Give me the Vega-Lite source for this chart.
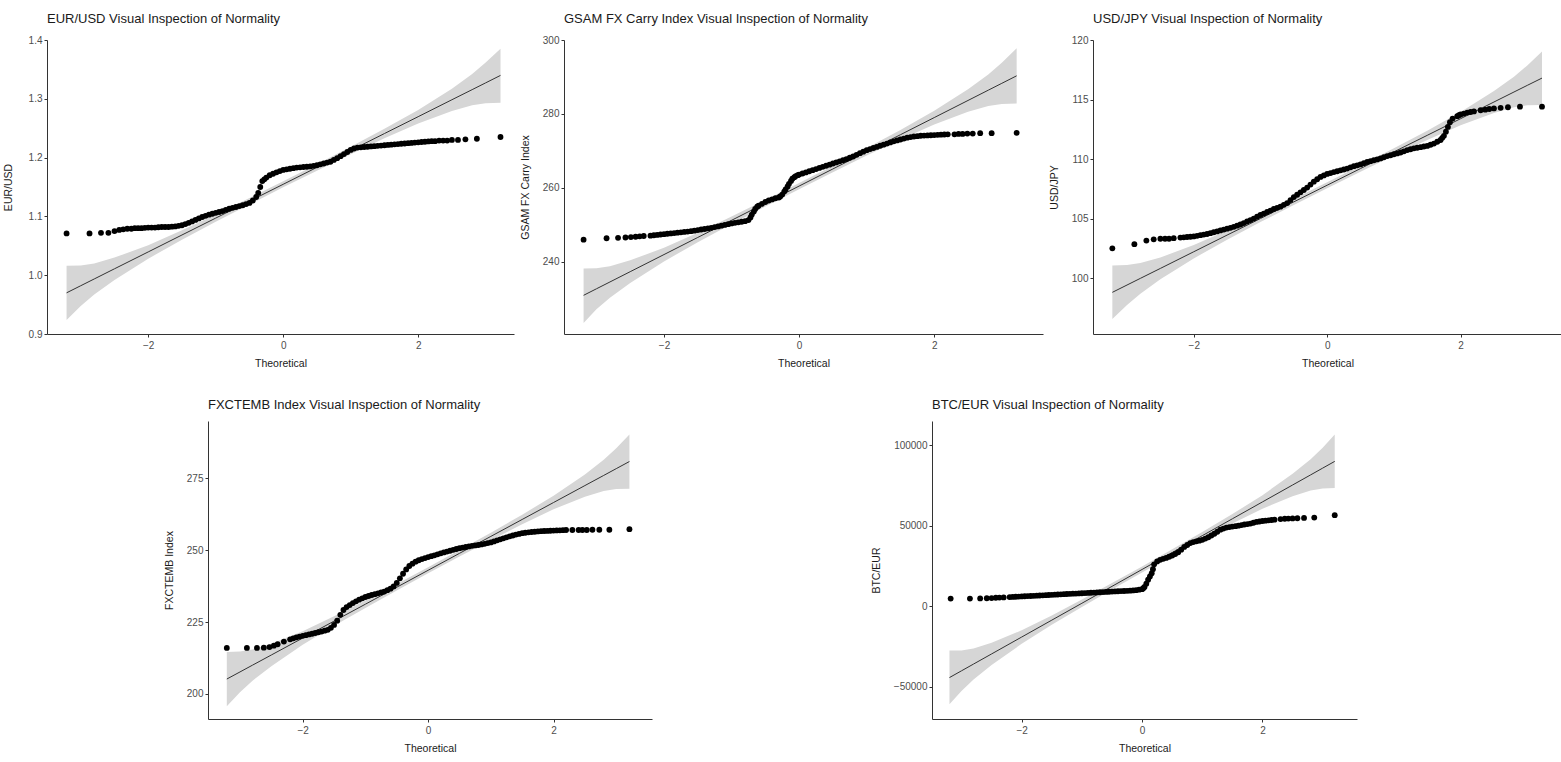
{
  "$schema": "https://vega.github.io/schema/vega-lite/v6.json",
  "padding": {"left": 3, "top": 13, "right": 0, "bottom": 0},
  "background": "white",
  "datasets": {
    "eur": [
      {"t": -3.21, "v": 1.071}, {"t": -2.87, "v": 1.071}, {"t": -2.7, "v": 1.072}, {"t": -2.59, "v": 1.072}, {"t": -2.5, "v": 1.075}, {"t": -2.43, "v": 1.077}, {"t": -2.37, "v": 1.078}, {"t": -2.31, "v": 1.079}, {"t": -2.25, "v": 1.079},
      {"t": -2.2, "v": 1.08}, {"t": -2.15, "v": 1.08}, {"t": -2.1, "v": 1.08}, {"t": -2.05, "v": 1.0805}, {"t": -2.0, "v": 1.081}, {"t": -1.95, "v": 1.081}, {"t": -1.9, "v": 1.081}, {"t": -1.85, "v": 1.0815}, {"t": -1.8, "v": 1.082}, {"t": -1.75, "v": 1.082}, {"t": -1.7, "v": 1.082}, {"t": -1.65, "v": 1.0825}, {"t": -1.6, "v": 1.083}, {"t": -1.55, "v": 1.084}, {"t": -1.5, "v": 1.085}, {"t": -1.45, "v": 1.087}, {"t": -1.4, "v": 1.089}, {"t": -1.35, "v": 1.0915}, {"t": -1.3, "v": 1.094}, {"t": -1.25, "v": 1.0965}, {"t": -1.2, "v": 1.099}, {"t": -1.15, "v": 1.101}, {"t": -1.1, "v": 1.103}, {"t": -1.05, "v": 1.1045}, {"t": -1.0, "v": 1.106}, {"t": -0.95, "v": 1.1075}, {"t": -0.9, "v": 1.109}, {"t": -0.85, "v": 1.111}, {"t": -0.8, "v": 1.113}, {"t": -0.75, "v": 1.1145}, {"t": -0.7, "v": 1.116}, {"t": -0.65, "v": 1.1175}, {"t": -0.6, "v": 1.119}, {"t": -0.55, "v": 1.121}, {"t": -0.5, "v": 1.123}, {"t": -0.45, "v": 1.127}, {"t": -0.4, "v": 1.133}, {"t": -0.37, "v": 1.14}, {"t": -0.34, "v": 1.15}, {"t": -0.31, "v": 1.16}, {"t": -0.28, "v": 1.163}, {"t": -0.25, "v": 1.166}, {"t": -0.2, "v": 1.17}, {"t": -0.15, "v": 1.1725}, {"t": -0.1, "v": 1.175}, {"t": -0.05, "v": 1.177},
      {"t": 0.0, "v": 1.179}, {"t": 0.05, "v": 1.18}, {"t": 0.1, "v": 1.181}, {"t": 0.15, "v": 1.182}, {"t": 0.2, "v": 1.183}, {"t": 0.25, "v": 1.1835}, {"t": 0.3, "v": 1.184}, {"t": 0.35, "v": 1.1845}, {"t": 0.4, "v": 1.185}, {"t": 0.45, "v": 1.186}, {"t": 0.5, "v": 1.187}, {"t": 0.55, "v": 1.1885}, {"t": 0.6, "v": 1.19}, {"t": 0.65, "v": 1.1915}, {"t": 0.7, "v": 1.193}, {"t": 0.75, "v": 1.196}, {"t": 0.8, "v": 1.199}, {"t": 0.85, "v": 1.2025}, {"t": 0.9, "v": 1.206}, {"t": 0.95, "v": 1.2095}, {"t": 1.0, "v": 1.213}, {"t": 1.05, "v": 1.2155}, {"t": 1.1, "v": 1.217}, {"t": 1.15, "v": 1.2175}, {"t": 1.2, "v": 1.218}, {"t": 1.25, "v": 1.2185}, {"t": 1.3, "v": 1.219}, {"t": 1.35, "v": 1.2195}, {"t": 1.4, "v": 1.22}, {"t": 1.45, "v": 1.2205}, {"t": 1.5, "v": 1.221}, {"t": 1.55, "v": 1.2215}, {"t": 1.6, "v": 1.222}, {"t": 1.65, "v": 1.2225}, {"t": 1.7, "v": 1.223}, {"t": 1.75, "v": 1.2235}, {"t": 1.8, "v": 1.224}, {"t": 1.85, "v": 1.2245}, {"t": 1.9, "v": 1.225}, {"t": 1.95, "v": 1.2255}, {"t": 2.0, "v": 1.226}, {"t": 2.05, "v": 1.2265}, {"t": 2.1, "v": 1.227}, {"t": 2.15, "v": 1.2275}, {"t": 2.2, "v": 1.228},
      {"t": 2.25, "v": 1.228}, {"t": 2.31, "v": 1.229}, {"t": 2.37, "v": 1.229}, {"t": 2.43, "v": 1.229}, {"t": 2.5, "v": 1.23}, {"t": 2.59, "v": 1.23}, {"t": 2.7, "v": 1.231}, {"t": 2.87, "v": 1.232}, {"t": 3.22, "v": 1.235}
    ],
    "eurb": [
      {"t": -3.21, "lo": 0.924, "hi": 1.016, "fit": 0.970}, {"t": -3.0, "lo": 0.9476, "hi": 1.0166, "fit": 0.9821}, {"t": -2.8, "lo": 0.9672, "hi": 1.0201, "fit": 0.9936}, {"t": -2.5, "lo": 0.9919, "hi": 1.0299, "fit": 1.0109}, {"t": -2.0, "lo": 1.0281, "hi": 1.0511, "fit": 1.0396}, {"t": -1.5, "lo": 1.0603, "hi": 1.0764, "fit": 1.0684}, {"t": -1.0, "lo": 1.0908, "hi": 1.1034, "fit": 1.0971}, {"t": -0.5, "lo": 1.1203, "hi": 1.1314, "fit": 1.1259}, {"t": 0.0, "lo": 1.1494, "hi": 1.1598, "fit": 1.1546}, {"t": 0.5, "lo": 1.1778, "hi": 1.1889, "fit": 1.1834}, {"t": 1.0, "lo": 1.2058, "hi": 1.2184, "fit": 1.2121}, {"t": 1.5, "lo": 1.2328, "hi": 1.2489, "fit": 1.2409}, {"t": 2.0, "lo": 1.2581, "hi": 1.2811, "fit": 1.2696}, {"t": 2.5, "lo": 1.2794, "hi": 1.3173, "fit": 1.2984}, {"t": 2.8, "lo": 1.2892, "hi": 1.3421, "fit": 1.3156}, {"t": 3.0, "lo": 1.2926, "hi": 1.3616, "fit": 1.3271}, {"t": 3.22, "lo": 1.2932, "hi": 1.3852, "fit": 1.3398}
    ],
    "gsam": [
      {"t": -3.19, "v": 246.0}, {"t": -2.85, "v": 246.4}, {"t": -2.68, "v": 246.5}, {"t": -2.57, "v": 246.6}, {"t": -2.49, "v": 246.7}, {"t": -2.42, "v": 246.8}, {"t": -2.36, "v": 246.9}, {"t": -2.3, "v": 247.0},
      {"t": -2.2, "v": 247.1}, {"t": -2.15, "v": 247.2}, {"t": -2.1, "v": 247.3}, {"t": -2.05, "v": 247.4}, {"t": -2.0, "v": 247.5}, {"t": -1.95, "v": 247.6}, {"t": -1.9, "v": 247.7}, {"t": -1.85, "v": 247.8}, {"t": -1.8, "v": 247.9}, {"t": -1.75, "v": 248.0}, {"t": -1.7, "v": 248.1}, {"t": -1.65, "v": 248.2}, {"t": -1.6, "v": 248.3}, {"t": -1.55, "v": 248.45}, {"t": -1.5, "v": 248.6}, {"t": -1.45, "v": 248.75}, {"t": -1.4, "v": 248.9}, {"t": -1.35, "v": 249.05}, {"t": -1.3, "v": 249.2}, {"t": -1.25, "v": 249.4}, {"t": -1.2, "v": 249.6}, {"t": -1.15, "v": 249.8}, {"t": -1.1, "v": 250.0}, {"t": -1.05, "v": 250.2}, {"t": -1.0, "v": 250.4}, {"t": -0.95, "v": 250.55}, {"t": -0.9, "v": 250.7}, {"t": -0.85, "v": 250.85}, {"t": -0.8, "v": 251.0}, {"t": -0.75, "v": 251.3}, {"t": -0.72, "v": 252.0}, {"t": -0.7, "v": 252.8}, {"t": -0.67, "v": 253.6}, {"t": -0.65, "v": 254.3}, {"t": -0.62, "v": 254.9}, {"t": -0.6, "v": 255.2}, {"t": -0.55, "v": 255.7}, {"t": -0.5, "v": 256.2}, {"t": -0.45, "v": 256.6}, {"t": -0.4, "v": 256.9}, {"t": -0.35, "v": 257.2}, {"t": -0.3, "v": 257.4}, {"t": -0.28, "v": 257.7}, {"t": -0.25, "v": 258.2}, {"t": -0.22, "v": 259.0}, {"t": -0.2, "v": 259.6}, {"t": -0.17, "v": 260.4}, {"t": -0.15, "v": 261.1}, {"t": -0.12, "v": 261.9}, {"t": -0.1, "v": 262.5}, {"t": -0.07, "v": 262.9}, {"t": -0.05, "v": 263.2}, {"t": -0.02, "v": 263.45},
      {"t": 0.0, "v": 263.6}, {"t": 0.05, "v": 263.9}, {"t": 0.1, "v": 264.2}, {"t": 0.15, "v": 264.5}, {"t": 0.2, "v": 264.8}, {"t": 0.25, "v": 265.1}, {"t": 0.3, "v": 265.4}, {"t": 0.35, "v": 265.7}, {"t": 0.4, "v": 266.0}, {"t": 0.45, "v": 266.3}, {"t": 0.5, "v": 266.6}, {"t": 0.55, "v": 266.9}, {"t": 0.6, "v": 267.2}, {"t": 0.65, "v": 267.5}, {"t": 0.7, "v": 267.8}, {"t": 0.75, "v": 268.15}, {"t": 0.8, "v": 268.5}, {"t": 0.85, "v": 268.95}, {"t": 0.9, "v": 269.4}, {"t": 0.95, "v": 269.8}, {"t": 1.0, "v": 270.2}, {"t": 1.05, "v": 270.5}, {"t": 1.1, "v": 270.8}, {"t": 1.15, "v": 271.1}, {"t": 1.2, "v": 271.4}, {"t": 1.25, "v": 271.7}, {"t": 1.3, "v": 272.0}, {"t": 1.35, "v": 272.3}, {"t": 1.4, "v": 272.6}, {"t": 1.45, "v": 272.85}, {"t": 1.5, "v": 273.1}, {"t": 1.55, "v": 273.35}, {"t": 1.6, "v": 273.6}, {"t": 1.65, "v": 273.75}, {"t": 1.7, "v": 273.9}, {"t": 1.75, "v": 274.0}, {"t": 1.8, "v": 274.1}, {"t": 1.85, "v": 274.15}, {"t": 1.9, "v": 274.2}, {"t": 1.95, "v": 274.25}, {"t": 2.0, "v": 274.3}, {"t": 2.05, "v": 274.35}, {"t": 2.1, "v": 274.4}, {"t": 2.15, "v": 274.45}, {"t": 2.2, "v": 274.5},
      {"t": 2.3, "v": 274.5}, {"t": 2.36, "v": 274.6}, {"t": 2.42, "v": 274.6}, {"t": 2.49, "v": 274.7}, {"t": 2.57, "v": 274.7}, {"t": 2.68, "v": 274.8}, {"t": 2.85, "v": 274.8}, {"t": 3.22, "v": 274.9}
    ],
    "gsamb": [
      {"t": -3.19, "lo": 223.5, "hi": 238.2, "fit": 230.96}, {"t": -3.0, "lo": 227.16, "hi": 238.28, "fit": 232.72}, {"t": -2.8, "lo": 230.31, "hi": 238.83, "fit": 234.57}, {"t": -2.5, "lo": 234.29, "hi": 240.41, "fit": 237.35}, {"t": -2.0, "lo": 240.13, "hi": 243.83, "fit": 241.98}, {"t": -1.5, "lo": 245.31, "hi": 247.91, "fit": 246.61}, {"t": -1.0, "lo": 250.22, "hi": 252.26, "fit": 251.24}, {"t": -0.5, "lo": 254.98, "hi": 256.76, "fit": 255.87}, {"t": 0.0, "lo": 259.66, "hi": 261.34, "fit": 260.5}, {"t": 0.5, "lo": 264.24, "hi": 266.02, "fit": 265.13}, {"t": 1.0, "lo": 268.74, "hi": 270.78, "fit": 269.76}, {"t": 1.5, "lo": 273.09, "hi": 275.69, "fit": 274.39}, {"t": 2.0, "lo": 277.17, "hi": 280.87, "fit": 279.02}, {"t": 2.5, "lo": 280.59, "hi": 286.71, "fit": 283.65}, {"t": 2.8, "lo": 282.17, "hi": 290.69, "fit": 286.43}, {"t": 3.0, "lo": 282.72, "hi": 293.84, "fit": 288.28}, {"t": 3.22, "lo": 282.8, "hi": 297.8, "fit": 290.32}
    ],
    "jpy": [
      {"t": -3.22, "v": 102.5}, {"t": -2.89, "v": 102.85}, {"t": -2.71, "v": 103.15}, {"t": -2.6, "v": 103.25}, {"t": -2.5, "v": 103.3}, {"t": -2.43, "v": 103.3}, {"t": -2.37, "v": 103.3}, {"t": -2.3, "v": 103.35},
      {"t": -2.2, "v": 103.4}, {"t": -2.15, "v": 103.42}, {"t": -2.1, "v": 103.45}, {"t": -2.05, "v": 103.47}, {"t": -2.0, "v": 103.5}, {"t": -1.95, "v": 103.55}, {"t": -1.9, "v": 103.6}, {"t": -1.85, "v": 103.65}, {"t": -1.8, "v": 103.7}, {"t": -1.75, "v": 103.77}, {"t": -1.7, "v": 103.85}, {"t": -1.65, "v": 103.92}, {"t": -1.6, "v": 104.0}, {"t": -1.55, "v": 104.07}, {"t": -1.5, "v": 104.15}, {"t": -1.45, "v": 104.22}, {"t": -1.4, "v": 104.3}, {"t": -1.35, "v": 104.4}, {"t": -1.3, "v": 104.5}, {"t": -1.25, "v": 104.62}, {"t": -1.2, "v": 104.75}, {"t": -1.15, "v": 104.87}, {"t": -1.1, "v": 105.0}, {"t": -1.05, "v": 105.15}, {"t": -1.0, "v": 105.3}, {"t": -0.95, "v": 105.42}, {"t": -0.9, "v": 105.55}, {"t": -0.85, "v": 105.67}, {"t": -0.8, "v": 105.8}, {"t": -0.75, "v": 105.9}, {"t": -0.7, "v": 106.0}, {"t": -0.65, "v": 106.15}, {"t": -0.6, "v": 106.3}, {"t": -0.55, "v": 106.55}, {"t": -0.5, "v": 106.8}, {"t": -0.45, "v": 107.0}, {"t": -0.4, "v": 107.2}, {"t": -0.35, "v": 107.4}, {"t": -0.3, "v": 107.6}, {"t": -0.25, "v": 107.85}, {"t": -0.2, "v": 108.1}, {"t": -0.15, "v": 108.3}, {"t": -0.1, "v": 108.5}, {"t": -0.05, "v": 108.62},
      {"t": 0.0, "v": 108.75}, {"t": 0.05, "v": 108.82}, {"t": 0.1, "v": 108.9}, {"t": 0.15, "v": 108.97}, {"t": 0.2, "v": 109.05}, {"t": 0.25, "v": 109.12}, {"t": 0.3, "v": 109.2}, {"t": 0.35, "v": 109.3}, {"t": 0.4, "v": 109.4}, {"t": 0.45, "v": 109.47}, {"t": 0.5, "v": 109.55}, {"t": 0.55, "v": 109.65}, {"t": 0.6, "v": 109.75}, {"t": 0.65, "v": 109.82}, {"t": 0.7, "v": 109.9}, {"t": 0.75, "v": 109.97}, {"t": 0.8, "v": 110.05}, {"t": 0.85, "v": 110.15}, {"t": 0.9, "v": 110.25}, {"t": 0.95, "v": 110.32}, {"t": 1.0, "v": 110.4}, {"t": 1.05, "v": 110.47}, {"t": 1.1, "v": 110.55}, {"t": 1.15, "v": 110.65}, {"t": 1.2, "v": 110.75}, {"t": 1.25, "v": 110.82}, {"t": 1.3, "v": 110.9}, {"t": 1.35, "v": 110.95}, {"t": 1.4, "v": 111.0}, {"t": 1.45, "v": 111.05}, {"t": 1.5, "v": 111.1}, {"t": 1.55, "v": 111.2}, {"t": 1.6, "v": 111.3}, {"t": 1.65, "v": 111.45}, {"t": 1.7, "v": 111.6}, {"t": 1.725, "v": 111.78}, {"t": 1.75, "v": 111.95}, {"t": 1.78, "v": 112.3}, {"t": 1.81, "v": 112.7}, {"t": 1.84, "v": 113.1}, {"t": 1.88, "v": 113.4}, {"t": 1.95, "v": 113.6}, {"t": 1.975, "v": 113.68}, {"t": 2.0, "v": 113.75}, {"t": 2.05, "v": 113.82}, {"t": 2.1, "v": 113.9}, {"t": 2.15, "v": 113.95}, {"t": 2.2, "v": 114.0},
      {"t": 2.3, "v": 114.1}, {"t": 2.37, "v": 114.15}, {"t": 2.43, "v": 114.2}, {"t": 2.5, "v": 114.25}, {"t": 2.6, "v": 114.3}, {"t": 2.71, "v": 114.35}, {"t": 2.89, "v": 114.4}, {"t": 3.22, "v": 114.4}
    ],
    "jpyb": [
      {"t": -3.22, "lo": 96.57, "hi": 101.06, "fit": 98.8}, {"t": -3.0, "lo": 97.74, "hi": 101.09, "fit": 99.415}, {"t": -2.8, "lo": 98.69, "hi": 101.26, "fit": 99.974}, {"t": -2.5, "lo": 99.89, "hi": 101.73, "fit": 100.81}, {"t": -2.0, "lo": 101.65, "hi": 102.77, "fit": 102.21}, {"t": -1.5, "lo": 103.22, "hi": 104.0, "fit": 103.61}, {"t": -1.0, "lo": 104.7, "hi": 105.31, "fit": 105.0}, {"t": -0.5, "lo": 106.13, "hi": 106.67, "fit": 106.4}, {"t": 0.0, "lo": 107.55, "hi": 108.05, "fit": 107.8}, {"t": 0.5, "lo": 108.93, "hi": 109.47, "fit": 109.2}, {"t": 1.0, "lo": 110.29, "hi": 110.9, "fit": 110.6}, {"t": 1.5, "lo": 111.6, "hi": 112.38, "fit": 111.99}, {"t": 2.0, "lo": 112.83, "hi": 113.95, "fit": 113.39}, {"t": 2.5, "lo": 113.87, "hi": 115.71, "fit": 114.79}, {"t": 2.8, "lo": 114.34, "hi": 116.91, "fit": 115.63}, {"t": 3.0, "lo": 114.51, "hi": 117.86, "fit": 116.19}, {"t": 3.22, "lo": 114.53, "hi": 119.03, "fit": 116.8}
    ],
    "emb": [
      {"t": -3.21, "v": 216.0}, {"t": -2.89, "v": 216.0}, {"t": -2.73, "v": 216.0}, {"t": -2.62, "v": 216.1}, {"t": -2.53, "v": 216.3}, {"t": -2.46, "v": 216.8}, {"t": -2.4, "v": 217.3}, {"t": -2.3, "v": 218.2},
      {"t": -2.2, "v": 219.0}, {"t": -2.15, "v": 219.35}, {"t": -2.1, "v": 219.7}, {"t": -2.05, "v": 219.95}, {"t": -2.0, "v": 220.2}, {"t": -1.95, "v": 220.45}, {"t": -1.9, "v": 220.7}, {"t": -1.85, "v": 220.95}, {"t": -1.8, "v": 221.2}, {"t": -1.75, "v": 221.45}, {"t": -1.7, "v": 221.7}, {"t": -1.65, "v": 222.0}, {"t": -1.6, "v": 222.3}, {"t": -1.55, "v": 223.0}, {"t": -1.5, "v": 224.0}, {"t": -1.45, "v": 225.5}, {"t": -1.4, "v": 227.5}, {"t": -1.35, "v": 229.2}, {"t": -1.3, "v": 230.2}, {"t": -1.25, "v": 230.9}, {"t": -1.2, "v": 231.6}, {"t": -1.15, "v": 232.2}, {"t": -1.1, "v": 232.8}, {"t": -1.05, "v": 233.25}, {"t": -1.0, "v": 233.7}, {"t": -0.95, "v": 234.05}, {"t": -0.9, "v": 234.4}, {"t": -0.85, "v": 234.7}, {"t": -0.8, "v": 235.0}, {"t": -0.75, "v": 235.3}, {"t": -0.7, "v": 235.6}, {"t": -0.65, "v": 236.1}, {"t": -0.6, "v": 236.6}, {"t": -0.55, "v": 237.4}, {"t": -0.5, "v": 238.6}, {"t": -0.45, "v": 240.2}, {"t": -0.4, "v": 241.8}, {"t": -0.35, "v": 243.3}, {"t": -0.3, "v": 244.5}, {"t": -0.25, "v": 245.3}, {"t": -0.2, "v": 246.0}, {"t": -0.15, "v": 246.5}, {"t": -0.1, "v": 246.9}, {"t": -0.05, "v": 247.25},
      {"t": 0.0, "v": 247.6}, {"t": 0.05, "v": 247.9}, {"t": 0.1, "v": 248.2}, {"t": 0.15, "v": 248.55}, {"t": 0.2, "v": 248.9}, {"t": 0.25, "v": 249.2}, {"t": 0.3, "v": 249.5}, {"t": 0.35, "v": 249.8}, {"t": 0.4, "v": 250.1}, {"t": 0.45, "v": 250.4}, {"t": 0.5, "v": 250.7}, {"t": 0.55, "v": 250.9}, {"t": 0.6, "v": 251.1}, {"t": 0.65, "v": 251.3}, {"t": 0.7, "v": 251.5}, {"t": 0.75, "v": 251.65}, {"t": 0.8, "v": 251.8}, {"t": 0.85, "v": 252.0}, {"t": 0.9, "v": 252.2}, {"t": 0.95, "v": 252.45}, {"t": 1.0, "v": 252.7}, {"t": 1.05, "v": 253.05}, {"t": 1.1, "v": 253.4}, {"t": 1.15, "v": 253.75}, {"t": 1.2, "v": 254.1}, {"t": 1.25, "v": 254.45}, {"t": 1.3, "v": 254.8}, {"t": 1.35, "v": 255.1}, {"t": 1.4, "v": 255.4}, {"t": 1.45, "v": 255.65}, {"t": 1.5, "v": 255.9}, {"t": 1.55, "v": 256.05}, {"t": 1.6, "v": 256.2}, {"t": 1.65, "v": 256.3}, {"t": 1.7, "v": 256.4}, {"t": 1.75, "v": 256.5}, {"t": 1.8, "v": 256.6}, {"t": 1.85, "v": 256.65}, {"t": 1.9, "v": 256.7}, {"t": 1.95, "v": 256.75}, {"t": 2.0, "v": 256.8}, {"t": 2.05, "v": 256.85}, {"t": 2.1, "v": 256.9}, {"t": 2.15, "v": 256.95}, {"t": 2.2, "v": 257.0},
      {"t": 2.3, "v": 257.0}, {"t": 2.4, "v": 257.0}, {"t": 2.46, "v": 257.0}, {"t": 2.53, "v": 257.0}, {"t": 2.62, "v": 257.1}, {"t": 2.73, "v": 257.1}, {"t": 2.89, "v": 257.1}, {"t": 3.21, "v": 257.3}
    ],
    "embb": [
      {"t": -3.21, "lo": 195.77, "hi": 214.61, "fit": 205.19}, {"t": -3.0, "lo": 200.59, "hi": 214.73, "fit": 207.66}, {"t": -2.8, "lo": 204.6, "hi": 215.44, "fit": 210.02}, {"t": -2.5, "lo": 209.66, "hi": 217.44, "fit": 213.55}, {"t": -2.0, "lo": 217.08, "hi": 221.8, "fit": 219.44}, {"t": -1.5, "lo": 223.68, "hi": 226.98, "fit": 225.33}, {"t": -1.0, "lo": 229.92, "hi": 232.52, "fit": 231.22}, {"t": -0.5, "lo": 235.98, "hi": 238.24, "fit": 237.11}, {"t": 0.0, "lo": 241.93, "hi": 244.07, "fit": 243.0}, {"t": 0.5, "lo": 247.76, "hi": 250.02, "fit": 248.89}, {"t": 1.0, "lo": 253.48, "hi": 256.08, "fit": 254.78}, {"t": 1.5, "lo": 259.02, "hi": 262.32, "fit": 260.67}, {"t": 2.0, "lo": 264.2, "hi": 268.92, "fit": 266.56}, {"t": 2.5, "lo": 268.56, "hi": 276.34, "fit": 272.45}, {"t": 2.8, "lo": 270.56, "hi": 281.4, "fit": 275.98}, {"t": 3.0, "lo": 271.27, "hi": 285.41, "fit": 278.34}, {"t": 3.21, "lo": 271.39, "hi": 290.23, "fit": 280.81}
    ],
    "btc": [
      {"t": -3.18, "v": 4800}, {"t": -2.86, "v": 4800}, {"t": -2.69, "v": 4900}, {"t": -2.58, "v": 5000}, {"t": -2.5, "v": 5100}, {"t": -2.43, "v": 5300}, {"t": -2.37, "v": 5400}, {"t": -2.3, "v": 5500},
      {"t": -2.2, "v": 5700}, {"t": -2.15, "v": 5800}, {"t": -2.1, "v": 5900}, {"t": -2.05, "v": 6000}, {"t": -2.0, "v": 6100}, {"t": -1.95, "v": 6200}, {"t": -1.9, "v": 6300}, {"t": -1.85, "v": 6400}, {"t": -1.8, "v": 6500}, {"t": -1.75, "v": 6600}, {"t": -1.7, "v": 6700}, {"t": -1.65, "v": 6800}, {"t": -1.6, "v": 6900}, {"t": -1.55, "v": 7000}, {"t": -1.5, "v": 7100}, {"t": -1.45, "v": 7200}, {"t": -1.4, "v": 7300}, {"t": -1.35, "v": 7400}, {"t": -1.3, "v": 7500}, {"t": -1.25, "v": 7600}, {"t": -1.2, "v": 7700}, {"t": -1.15, "v": 7800}, {"t": -1.1, "v": 7900}, {"t": -1.05, "v": 8000}, {"t": -1.0, "v": 8100}, {"t": -0.95, "v": 8200}, {"t": -0.9, "v": 8300}, {"t": -0.85, "v": 8400}, {"t": -0.8, "v": 8500}, {"t": -0.75, "v": 8600}, {"t": -0.7, "v": 8700}, {"t": -0.65, "v": 8800}, {"t": -0.6, "v": 8900}, {"t": -0.55, "v": 9000}, {"t": -0.5, "v": 9100}, {"t": -0.45, "v": 9200}, {"t": -0.4, "v": 9300}, {"t": -0.35, "v": 9400}, {"t": -0.3, "v": 9500}, {"t": -0.25, "v": 9600}, {"t": -0.2, "v": 9700}, {"t": -0.15, "v": 9850}, {"t": -0.1, "v": 10000}, {"t": -0.05, "v": 10300},
      {"t": 0.0, "v": 10600}, {"t": 0.02, "v": 11200}, {"t": 0.04, "v": 12000}, {"t": 0.07, "v": 14000}, {"t": 0.1, "v": 16500}, {"t": 0.13, "v": 18500}, {"t": 0.16, "v": 20500}, {"t": 0.18, "v": 23000}, {"t": 0.2, "v": 26000}, {"t": 0.25, "v": 27800}, {"t": 0.3, "v": 28800}, {"t": 0.35, "v": 29400}, {"t": 0.4, "v": 30000}, {"t": 0.45, "v": 30700}, {"t": 0.5, "v": 31500}, {"t": 0.55, "v": 32400}, {"t": 0.6, "v": 33500}, {"t": 0.65, "v": 35100}, {"t": 0.7, "v": 36800}, {"t": 0.75, "v": 38000}, {"t": 0.8, "v": 39200}, {"t": 0.85, "v": 39800}, {"t": 0.9, "v": 40300}, {"t": 0.95, "v": 40700}, {"t": 1.0, "v": 41200}, {"t": 1.05, "v": 42000}, {"t": 1.1, "v": 42800}, {"t": 1.15, "v": 43900}, {"t": 1.2, "v": 45000}, {"t": 1.25, "v": 46200}, {"t": 1.3, "v": 47500}, {"t": 1.35, "v": 48200}, {"t": 1.4, "v": 48800}, {"t": 1.45, "v": 49100}, {"t": 1.5, "v": 49400}, {"t": 1.55, "v": 49700}, {"t": 1.6, "v": 50000}, {"t": 1.65, "v": 50350}, {"t": 1.7, "v": 50700}, {"t": 1.75, "v": 51000}, {"t": 1.8, "v": 51300}, {"t": 1.85, "v": 51800}, {"t": 1.9, "v": 52300}, {"t": 1.95, "v": 52600}, {"t": 2.0, "v": 52900}, {"t": 2.05, "v": 53100}, {"t": 2.1, "v": 53300}, {"t": 2.15, "v": 53500}, {"t": 2.2, "v": 53700},
      {"t": 2.3, "v": 54100}, {"t": 2.37, "v": 54300}, {"t": 2.43, "v": 54400}, {"t": 2.5, "v": 54500}, {"t": 2.58, "v": 54600}, {"t": 2.69, "v": 54800}, {"t": 2.86, "v": 55000}, {"t": 3.2, "v": 56500}
    ],
    "btcb": [
      {"t": -3.2, "lo": -60800, "hi": -27400, "fit": -44210}, {"t": -3.0, "lo": -52590, "hi": -27450, "fit": -40020}, {"t": -2.8, "lo": -45467, "hi": -26193, "fit": -35830}, {"t": -2.5, "lo": -36459, "hi": -22631, "fit": -29545}, {"t": -2.0, "lo": -23260, "hi": -14880, "fit": -19070}, {"t": -1.5, "lo": -11528, "hi": -5662, "fit": -8595}, {"t": -1.0, "lo": -425, "hi": 4185, "fit": 1880}, {"t": -0.5, "lo": 10344, "hi": 14366, "fit": 12355}, {"t": 0.0, "lo": 20924, "hi": 24736, "fit": 22830}, {"t": 0.5, "lo": 31294, "hi": 35316, "fit": 33305}, {"t": 1.0, "lo": 41475, "hi": 46085, "fit": 43780}, {"t": 1.5, "lo": 51322, "hi": 57188, "fit": 54255}, {"t": 2.0, "lo": 60540, "hi": 68920, "fit": 64730}, {"t": 2.5, "lo": 68291, "hi": 82119, "fit": 75205}, {"t": 2.8, "lo": 71853, "hi": 91127, "fit": 81490}, {"t": 3.0, "lo": 73110, "hi": 98250, "fit": 85680}, {"t": 3.2, "lo": 73300, "hi": 106600, "fit": 89870}
    ]
  },
  "vconcat": [
    {
      "hconcat": [
        {
          "width": 467, "height": 294,
          "title": "EUR/USD Visual Inspection of Normality",
          "layer": [
            {"data": {"name": "eurb"}, "mark": {"type": "area", "color": "#d6d6d6", "opacity": 1},
             "encoding": {
               "x": {"field": "t", "type": "quantitative", "title": "Theoretical", "scale": {"domain": [-3.5, 3.42], "nice": false, "zero": false}, "axis": {"values": [-2, 0, 2], "format": "d"}},
               "y": {"field": "lo", "type": "quantitative", "title": "EUR/USD", "scale": {"domain": [0.9, 1.4], "nice": false, "zero": false}, "axis": {"values": [0.9, 1.0, 1.1, 1.2, 1.3, 1.4], "format": ".1f"}},
               "y2": {"field": "hi"}}},
            {"data": {"name": "eurb"}, "mark": {"type": "line", "color": "#333333", "strokeWidth": 1},
             "encoding": {"x": {"field": "t", "type": "quantitative", "title": "Theoretical"}, "y": {"field": "fit", "type": "quantitative", "title": "EUR/USD"}}},
            {"data": {"name": "eur"}, "mark": {"type": "circle", "color": "#000000", "opacity": 1, "size": 34},
             "encoding": {"x": {"field": "t", "type": "quantitative", "title": "Theoretical"}, "y": {"field": "v", "type": "quantitative", "title": "EUR/USD"}}}
          ]
        },
        {
          "width": 479, "height": 294,
          "title": "GSAM FX Carry Index Visual Inspection of Normality",
          "layer": [
            {"data": {"name": "gsamb"}, "mark": {"type": "area", "color": "#d6d6d6", "opacity": 1},
             "encoding": {
               "x": {"field": "t", "type": "quantitative", "title": "Theoretical", "scale": {"domain": [-3.48, 3.61], "nice": false, "zero": false}, "axis": {"values": [-2, 0, 2], "format": "d"}},
               "y": {"field": "lo", "type": "quantitative", "title": "GSAM FX Carry Index", "scale": {"domain": [220.5, 300], "nice": false, "zero": false}, "axis": {"values": [240, 260, 280, 300]}},
               "y2": {"field": "hi"}}},
            {"data": {"name": "gsamb"}, "mark": {"type": "line", "color": "#333333", "strokeWidth": 1},
             "encoding": {"x": {"field": "t", "type": "quantitative", "title": "Theoretical"}, "y": {"field": "fit", "type": "quantitative", "title": "GSAM FX Carry Index"}}},
            {"data": {"name": "gsam"}, "mark": {"type": "circle", "color": "#000000", "opacity": 1, "size": 34},
             "encoding": {"x": {"field": "t", "type": "quantitative", "title": "Theoretical"}, "y": {"field": "v", "type": "quantitative", "title": "GSAM FX Carry Index"}}}
          ]
        },
        {
          "width": 469, "height": 294,
          "title": "USD/JPY Visual Inspection of Normality",
          "layer": [
            {"data": {"name": "jpyb"}, "mark": {"type": "area", "color": "#d6d6d6", "opacity": 1},
             "encoding": {
               "x": {"field": "t", "type": "quantitative", "title": "Theoretical", "scale": {"domain": [-3.51, 3.52], "nice": false, "zero": false}, "axis": {"values": [-2, 0, 2], "format": "d"}},
               "y": {"field": "lo", "type": "quantitative", "title": "USD/JPY", "scale": {"domain": [95.3, 120], "nice": false, "zero": false}, "axis": {"values": [100, 105, 110, 115, 120]}},
               "y2": {"field": "hi"}}},
            {"data": {"name": "jpyb"}, "mark": {"type": "line", "color": "#333333", "strokeWidth": 1},
             "encoding": {"x": {"field": "t", "type": "quantitative", "title": "Theoretical"}, "y": {"field": "fit", "type": "quantitative", "title": "USD/JPY"}}},
            {"data": {"name": "jpy"}, "mark": {"type": "circle", "color": "#000000", "opacity": 1, "size": 34},
             "encoding": {"x": {"field": "t", "type": "quantitative", "title": "Theoretical"}, "y": {"field": "v", "type": "quantitative", "title": "USD/JPY"}}}
          ]
        }
      ],
      "spacing": 6
    },
    {
      "hconcat": [
        {"width": 117, "height": 298, "data": {"values": []}, "mark": {"type": "point", "opacity": 0}},
        {
          "hconcat": [
            {
              "width": 444, "height": 298,
              "title": "FXCTEMB Index Visual Inspection of Normality",
              "layer": [
                {"data": {"name": "embb"}, "mark": {"type": "area", "color": "#d6d6d6", "opacity": 1},
                 "encoding": {
                   "x": {"field": "t", "type": "quantitative", "title": "Theoretical", "scale": {"domain": [-3.51, 3.57], "nice": false, "zero": false}, "axis": {"values": [-2, 0, 2], "format": "d"}},
                   "y": {"field": "lo", "type": "quantitative", "title": "FXCTEMB Index", "scale": {"domain": [191.3, 294.9], "nice": false, "zero": false}, "axis": {"values": [200, 225, 250, 275]}},
                   "y2": {"field": "hi"}}},
                {"data": {"name": "embb"}, "mark": {"type": "line", "color": "#333333", "strokeWidth": 1},
                 "encoding": {"x": {"field": "t", "type": "quantitative", "title": "Theoretical"}, "y": {"field": "fit", "type": "quantitative", "title": "FXCTEMB Index"}}},
                {"data": {"name": "emb"}, "mark": {"type": "circle", "color": "#000000", "opacity": 1, "size": 34},
                 "encoding": {"x": {"field": "t", "type": "quantitative", "title": "Theoretical"}, "y": {"field": "v", "type": "quantitative", "title": "FXCTEMB Index"}}}
              ]
            },
            {
              "width": 425, "height": 298,
              "title": "BTC/EUR Visual Inspection of Normality",
              "layer": [
                {"data": {"name": "btcb"}, "mark": {"type": "area", "color": "#d6d6d6", "opacity": 1},
                 "encoding": {
                   "x": {"field": "t", "type": "quantitative", "title": "Theoretical", "scale": {"domain": [-3.49, 3.57], "nice": false, "zero": false}, "axis": {"values": [-2, 0, 2], "format": "d"}},
                   "y": {"field": "lo", "type": "quantitative", "title": "BTC/EUR", "scale": {"domain": [-69900, 114900], "nice": false, "zero": false}, "axis": {"values": [-50000, 0, 50000, 100000], "format": "d", "minExtent": 47, "maxExtent": 47}},
                   "y2": {"field": "hi"}}},
                {"data": {"name": "btcb"}, "mark": {"type": "line", "color": "#333333", "strokeWidth": 1},
                 "encoding": {"x": {"field": "t", "type": "quantitative", "title": "Theoretical"}, "y": {"field": "fit", "type": "quantitative", "title": "BTC/EUR"}}},
                {"data": {"name": "btc"}, "mark": {"type": "circle", "color": "#000000", "opacity": 1, "size": 34},
                 "encoding": {"x": {"field": "t", "type": "quantitative", "title": "Theoretical"}, "y": {"field": "v", "type": "quantitative", "title": "BTC/EUR"}}}
              ]
            }
          ],
          "spacing": 219
        }
      ],
      "spacing": 0
    }
  ],
  "spacing": 30,
  "config": {
    "view": {"stroke": null},
    "font": "Liberation Sans",
    "title": {"anchor": "start", "frame": "group", "fontSize": 13, "fontWeight": "normal", "color": "#1a1a1a", "offset": 9},
    "axis": {"grid": false, "domainColor": "#333333", "tickColor": "#333333", "labelColor": "#4d4d4d", "labelFontSize": 10, "titleFontSize": 10.5, "titleFontWeight": "normal", "titleColor": "#1a1a1a", "tickSize": 3, "domainWidth": 1, "tickWidth": 1},
    "axisX": {"labelPadding": 3, "titlePadding": 8},
    "axisY": {"labelPadding": 2, "titlePadding": 4, "minExtent": 30, "maxExtent": 30}
  }
}
